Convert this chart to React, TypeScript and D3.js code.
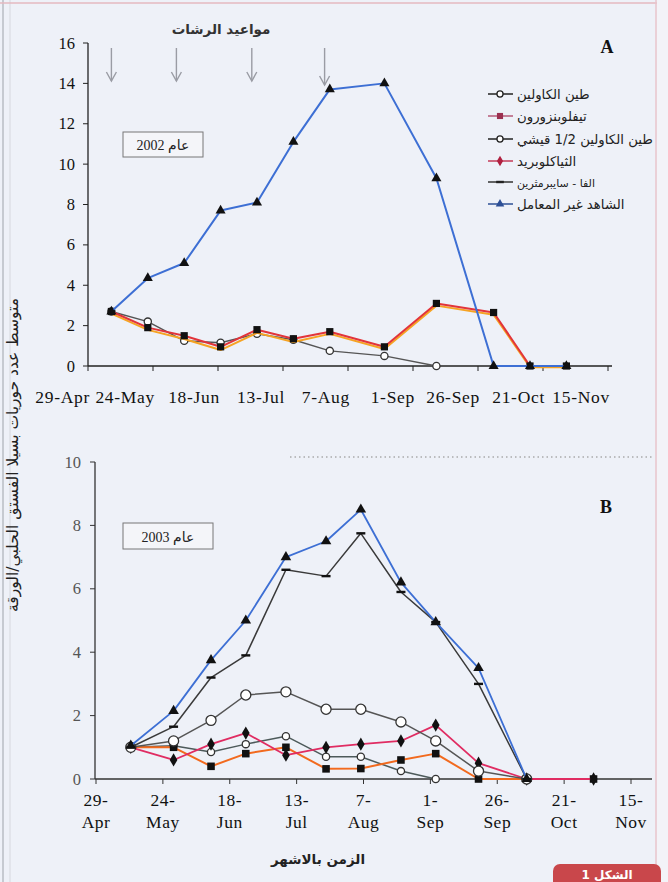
import React from "react";
import * as d3 from "d3";

const parse = d3.timeParse("%Y-%m-%d");

// ---- 2002 season (panel A) ----
const datesA = ["2002-05-08", "2002-05-22", "2002-06-05", "2002-06-19", "2002-07-03", "2002-07-17", "2002-07-31", "2002-08-21", "2002-09-10", "2002-10-02", "2002-10-16", "2002-10-30"];
const kaolinA = [2.7, 2.2, 1.25, 1.15, 1.6, 1.3, 0.75, 0.5, 0];
const tebufenozideA = [2.65, 1.85, 1.4, 0.85, 1.7, 1.25, 1.65, 0.9, 3.05, 2.6, 0, 0];
const thiaclopridA = [2.7, 1.9, 1.5, 0.95, 1.8, 1.35, 1.7, 0.95, 3.1, 2.65, 0, 0];
const controlA = [2.7, 4.35, 5.1, 7.7, 8.1, 11.1, 13.7, 14.0, 9.3, 0, 0, 0];
const spraysA = ["2002-05-08", "2002-06-02", "2002-07-01", "2002-07-29"];
const yTicksA = [0, 2, 4, 6, 8, 10, 12, 14, 16];

// ---- 2003 season (panel B) ----
const datesB = ["2003-05-12", "2003-05-28", "2003-06-11", "2003-06-24", "2003-07-09", "2003-07-24", "2003-08-06", "2003-08-21", "2003-09-03", "2003-09-19", "2003-10-07", "2003-11-01"];
const kaolinB = [1.0, 1.05, 0.85, 1.1, 1.35, 0.7, 0.7, 0.25, 0];
const tebufenozideB = [1.0, 1.0, 0.4, 0.8, 1.0, 0.32, 0.33, 0.6, 0.8, 0, 0, 0];
const kaolinHalfB = [1.0, 1.2, 1.85, 2.65, 2.75, 2.2, 2.2, 1.8, 1.2, 0.25, 0];
const thiaclopridB = [1.0, 0.6, 1.1, 1.45, 0.75, 1.0, 1.1, 1.2, 1.7, 0.5, 0, 0];
const alphaB = [1.0, 1.65, 3.2, 3.9, 6.6, 6.4, 7.75, 5.9, 4.95, 3.0, 0];
const controlB = [1.05, 2.15, 3.75, 5.0, 7.0, 7.5, 8.5, 6.2, 4.95, 3.5, 0];
const yTicksB = [0, 2, 4, 6, 8, 10];

// shared month ticks (every 25 days from 29 April)
const tickLabels = ["29-Apr", "24-May", "18-Jun", "13-Jul", "7-Aug", "1-Sep", "26-Sep", "21-Oct", "15-Nov"];
const tickDay = [0, 25, 50, 75, 100, 125, 150, 175, 200];

const legendNames = [
  "طين الكاولين",
  "تيفلوبنزورون",
  "طين الكاولين 1/2 قيشي",
  "الثياكلوبريد",
  "الفا - سايبرمثرين",
  "الشاهد غير المعامل",
];

const SERIF = "'Liberation Serif', 'Times New Roman', serif";
const ARABIC = "'DejaVu Sans', 'Noto Sans', sans-serif";
const BG = "#eef1f8";

type Pt = { d: Date; v: number };
const zip = (dates: string[], vals: number[]): Pt[] =>
  vals.map((v, i) => ({ d: parse(dates[i]) as Date, v }));

function Marker({ kind, x, y, s = 1, fill = "#111", stroke = "#111" }: any) {
  if (kind === "circle")
    return <circle cx={x} cy={y} r={3.6 * s} fill="#fff" stroke={stroke} strokeWidth={1.3} />;
  if (kind === "square")
    return <rect x={x - 3.6 * s} y={y - 3.6 * s} width={7.2 * s} height={7.2 * s} fill={fill} />;
  if (kind === "diamond")
    return <path d={d3.symbol(d3.symbolDiamond, 46 * s * s)() as string} transform={`translate(${x},${y})`} fill={fill} />;
  if (kind === "triangle")
    return <path d={d3.symbol(d3.symbolTriangle, 44 * s * s)() as string} transform={`translate(${x},${y})`} fill={fill} />;
  if (kind === "dash")
    return <rect x={x - 4.5 * s} y={y - 1.2} width={9 * s} height={2.4} fill={fill} />;
  return null;
}

function Series({ pts, x, y, color, width, marker, ms = 1, dx = 0, dy = 0, mfill = "#111" }: any) {
  const line = d3.line<Pt>().x((p) => x(p.d) + dx).y((p) => y(p.v) + dy);
  return (
    <g>
      <path d={line(pts) as string} fill="none" stroke={color} strokeWidth={width} strokeLinejoin="round" />
      {marker &&
        pts.map((p: Pt, i: number) => (
          <Marker key={i} kind={marker} x={x(p.d) + dx} y={y(p.v) + dy} s={ms} fill={mfill} stroke="#333" />
        ))}
    </g>
  );
}

export default function App() {
  // Panel A scales
  const startA = parse("2002-04-29") as Date;
  const endA = d3.timeDay.offset(startA, 200);
  const xA = d3.scaleTime().domain([startA, endA]).range([88, 608]);
  const yA = d3.scaleLinear().domain([0, 16]).range([366, 43]);

  // Panel B scales
  const startB = parse("2003-04-29") as Date;
  const endB = d3.timeDay.offset(startB, 200);
  const xB = d3.scaleTime().domain([startB, endB]).range([96, 631]);
  const yB = d3.scaleLinear().domain([0, 10]).range([779, 462]);

  const ticksA = tickDay.map((d) => d3.timeDay.offset(startA, d));
  const ticksB = tickDay.map((d) => d3.timeDay.offset(startB, d));

  const legendY = [94, 116, 139, 161, 182, 204];

  return (
    <svg width={668} height={882} style={{ position: "absolute", left: 0, top: 0, background: BG }}>
      <rect x={0} y={0} width={668} height={882} fill={BG} />
      {/* page frame */}
      <line x1={3} y1={0} x2={3} y2={882} stroke="#b9bcc4" strokeWidth={1.5} />
      <line x1={10} y1={0} x2={10} y2={882} stroke="#d6d8de" strokeWidth={1} />
      <line x1={0} y1={3} x2={668} y2={3} stroke="#e4b8c0" strokeWidth={1.5} />
      <line x1={656} y1={0} x2={656} y2={882} stroke="#e8c4cc" strokeWidth={1.5} />
      <rect x={657} y={0} width={11} height={882} fill="#f3f3f8" />

      {/* ---------- Panel A ---------- */}
      <text x={221} y={34} textAnchor="middle" fontFamily={ARABIC} fontSize={13.5} fontWeight="bold" fill="#333">
        مواعيد الرشات
      </text>
      {spraysA.map((s, i) => {
        const ax = xA(parse(s) as Date);
        const bottom = i === 3 ? 85 : 81;
        return (
          <g key={i} stroke="#9a9ca4" strokeWidth={1.4} fill="none">
            <line x1={ax} y1={48} x2={ax} y2={bottom} />
            <polyline points={`${ax - 5},${bottom - 9} ${ax},${bottom} ${ax + 5},${bottom - 9}`} />
          </g>
        );
      })}

      {/* axes A */}
      <line x1={88} y1={43} x2={88} y2={366} stroke="#222" strokeWidth={1.3} />
      <line x1={88} y1={366} x2={612} y2={366} stroke="#222" strokeWidth={1.3} />
      {yTicksA.map((t) => (
        <g key={t}>
          <line x1={83} y1={yA(t)} x2={88} y2={yA(t)} stroke="#222" />
          <text x={75} y={yA(t) + 5.5} textAnchor="end" fontFamily={SERIF} fontSize={16.5} fill="#111">
            {t}
          </text>
        </g>
      ))}
      {ticksA.map((t, i) => (
        <g key={i}>
          <line x1={xA(t)} y1={366} x2={xA(t)} y2={371} stroke="#222" />
          <text x={xA(t) + 2} y={403} textAnchor="end" fontFamily={SERIF} fontSize={17.5} letterSpacing={0.7} fill="#111">
            {tickLabels[i]}
          </text>
        </g>
      ))}

      {/* series A */}
      <Series pts={zip(datesA, kaolinA)} x={xA} y={yA} color="#555" width={1.4} marker="circle" />
      <Series pts={zip(datesA, tebufenozideA)} x={xA} y={yA} color="#f6a323" width={2} dy={1.2} />
      <Series pts={zip(datesA, thiaclopridA)} x={xA} y={yA} color="#e2343a" width={2} marker="square" ms={1} />
      <Series pts={zip(datesA, controlA)} x={xA} y={yA} color="#3d6fd4" width={2} marker="triangle" />

      {/* year box A */}
      <rect x={123} y={132} width={80} height={25} fill="#f4f5f9" stroke="#777" strokeWidth={1} />
      <text x={163} y={150} textAnchor="middle" fontFamily={`${SERIF}, ${ARABIC}`} fontSize={14} fill="#222" direction="rtl">
        عام 2002
      </text>
      <text x={607} y={53} textAnchor="middle" fontFamily={SERIF} fontSize={18} fontWeight="bold" fill="#111">
        A
      </text>

      {/* legend */}
      {legendNames.map((name, i) => {
        const ly = legendY[i];
        const styles = [
          { c: "#222", m: "circle", f: "#fff" },
          { c: "#b65a78", m: "square", f: "#9c3050" },
          { c: "#222", m: "circle", f: "#fff" },
          { c: "#c43a58", m: "diamond", f: "#b02040" },
          { c: "#333", m: "dash", f: "#222" },
          { c: "#2d4f96", m: "triangle", f: "#2d4f96" },
        ][i];
        return (
          <g key={i}>
            <line x1={488} y1={ly} x2={513} y2={ly} stroke={styles.c} strokeWidth={1.5} />
            <Marker kind={styles.m} x={500} y={ly} s={0.85} fill={styles.f} stroke={styles.c} />
            <text x={517} y={ly + 4.5} textAnchor="start" fontFamily={ARABIC} fontSize={i === 4 ? 11 : 13.3} fill="#222">
              {name}
            </text>
          </g>
        );
      })}

      {/* ---------- Panel B ---------- */}
      <line x1={290} y1={457} x2={652} y2={457} stroke="#aaa" strokeWidth={1.4} strokeDasharray="1.5 3" />
      <line x1={95} y1={462} x2={95} y2={779} stroke="#333" strokeWidth={1.3} />
      <line x1={95} y1={779} x2={652} y2={779} stroke="#333" strokeWidth={1.3} />
      {yTicksB.map((t) => (
        <g key={t}>
          <line x1={90} y1={yB(t)} x2={95} y2={yB(t)} stroke="#333" />
          <text x={81} y={yB(t) + 5.5} textAnchor="end" fontFamily={SERIF} fontSize={16.5} fill="#555">
            {t}
          </text>
        </g>
      ))}
      {ticksB.map((t, i) => {
        const [a, b] = tickLabels[i].split("-");
        return (
          <g key={i}>
            <line x1={xB(t)} y1={779} x2={xB(t)} y2={784} stroke="#333" />
            <text x={xB(t)} y={806} textAnchor="middle" fontFamily={SERIF} fontSize={17.5} letterSpacing={0.5} fill="#111">
              {a}-
            </text>
            <text x={xB(t)} y={828} textAnchor="middle" fontFamily={SERIF} fontSize={17.5} letterSpacing={0.5} fill="#111">
              {b}
            </text>
          </g>
        );
      })}

      <Series pts={zip(datesB, kaolinB)} x={xB} y={yB} color="#4d5a5a" width={1.5} marker="circle" ms={1} />
      <Series pts={zip(datesB, tebufenozideB)} x={xB} y={yB} color="#f26a1e" width={2} marker="square" ms={1.05} />
      <Series pts={zip(datesB, thiaclopridB)} x={xB} y={yB} color="#e02c62" width={1.8} marker="diamond" ms={1.05} />
      <Series pts={zip(datesB, kaolinHalfB)} x={xB} y={yB} color="#555" width={1.5} marker="circle" ms={1.4} />
      <Series pts={zip(datesB, alphaB)} x={xB} y={yB} color="#3a3a3a" width={1.5} marker="dash" />
      <Series pts={zip(datesB, controlB)} x={xB} y={yB} color="#3d6fd4" width={1.8} marker="triangle" ms={1.05} />

      <rect x={123} y={523} width={90} height={26} fill="#f4f5f9" stroke="#777" strokeWidth={1} />
      <text x={168} y={542} textAnchor="middle" fontFamily={`${SERIF}, ${ARABIC}`} fontSize={14} fill="#222" direction="rtl">
        عام 2003
      </text>
      <text x={606} y={513} textAnchor="middle" fontFamily={SERIF} fontSize={18} fontWeight="bold" fill="#111">
        B
      </text>

      {/* axis titles */}
      <text
        transform="translate(18,455) rotate(-90)"
        textAnchor="middle"
        fontFamily={ARABIC}
        fontSize={15.5}
        fill="#222"
      >
        متوسط عدد حوريات بسيلا الفستق الحلبي/الورقة
      </text>
      <text x={318} y={864} textAnchor="middle" fontFamily={ARABIC} fontSize={13.5} fontWeight="bold" fill="#222">
        الزمن بالاشهر
      </text>

      {/* figure tab */}
      <rect x={553} y={864} width={108} height={40} rx={7} fill="#c9474b" />
      <text x={607} y={879} textAnchor="middle" fontFamily={ARABIC} fontSize={12} fontWeight="bold" fill="#fff">
        الشكل 1
      </text>
    </svg>
  );
}
